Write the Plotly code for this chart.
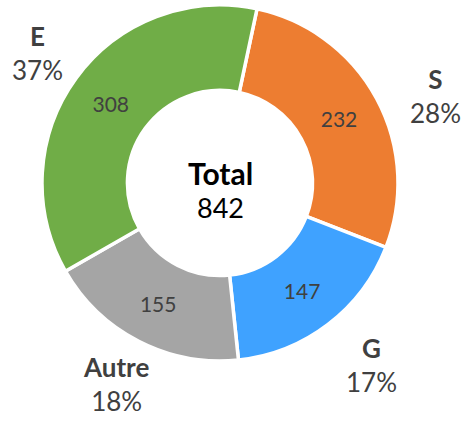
import math
import plotly.graph_objects as go

categories = ["S", "G", "Autre", "E"]
values = [232, 147, 155, 308]
colors = ["#ED7D31", "#3FA2FF", "#A5A5A5", "#70AD47"]

W, H = 476, 427
cx, cy, R = 220, 183, 178  # pixel centre/radius in figure coords
rotation = 12
total = sum(values)

# small placement nudges for outside labels (layout styling only)
label_nudge = {"E": (3, 6), "S": (13, 22), "G": (12, -1), "Autre": (1, -4)}

dom_x = [(cx - R) / W, (cx + R) / W]
dom_y = [(H - cy - R) / H, (H - cy + R) / H]

fig = go.Figure(go.Pie(
    labels=categories,
    values=values,
    sort=False,
    direction="clockwise",
    rotation=rotation,
    hole=0.52,
    marker=dict(colors=colors, line=dict(color="white", width=3.5)),
    textinfo="value",
    textposition="inside",
    insidetextorientation="horizontal",
    textfont=dict(family="Lato", size=21, color="#404040"),
    showlegend=False,
    domain=dict(x=dom_x, y=dom_y),
    hoverinfo="label+value+percent",
))

annotations = []
start = rotation
r_lab = 230
for cat, v in zip(categories, values):
    ang = v / total * 360
    mid = math.radians(start + ang / 2)
    start += ang
    nx, ny = label_nudge.get(cat, (0, 0))
    px = cx + r_lab * math.sin(mid) + nx
    py = cy - r_lab * math.cos(mid) + ny
    pct = round(v / total * 100)
    annotations.append(dict(
        x=px / W, y=1 - py / H, xref="paper", yref="paper",
        text=f"<b>{cat}</b><br>{pct}%", showarrow=False,
        xanchor="center", yanchor="middle", align="center",
        font=dict(family="Lato", size=26, color="#404040"),
    ))

annotations.append(dict(
    x=cx / W, y=1 - (cy - 10) / H, xref="paper", yref="paper",
    text="<b>Total</b>", showarrow=False,
    xanchor="center", yanchor="middle", align="center",
    font=dict(family="Lato", size=30, color="#000000"),
))
annotations.append(dict(
    x=cx / W, y=1 - (cy + 24) / H, xref="paper", yref="paper",
    text=f"{total}", showarrow=False,
    xanchor="center", yanchor="middle", align="center",
    font=dict(family="Lato", size=27, color="#000000"),
))

fig.update_layout(
    width=W, height=H,
    margin=dict(l=0, r=0, t=0, b=0),
    paper_bgcolor="white", plot_bgcolor="white",
    annotations=annotations,
)

fig.write_html("out.html", config={"displayModeBar": False},
               post_script="document.body.style.margin='0';")
